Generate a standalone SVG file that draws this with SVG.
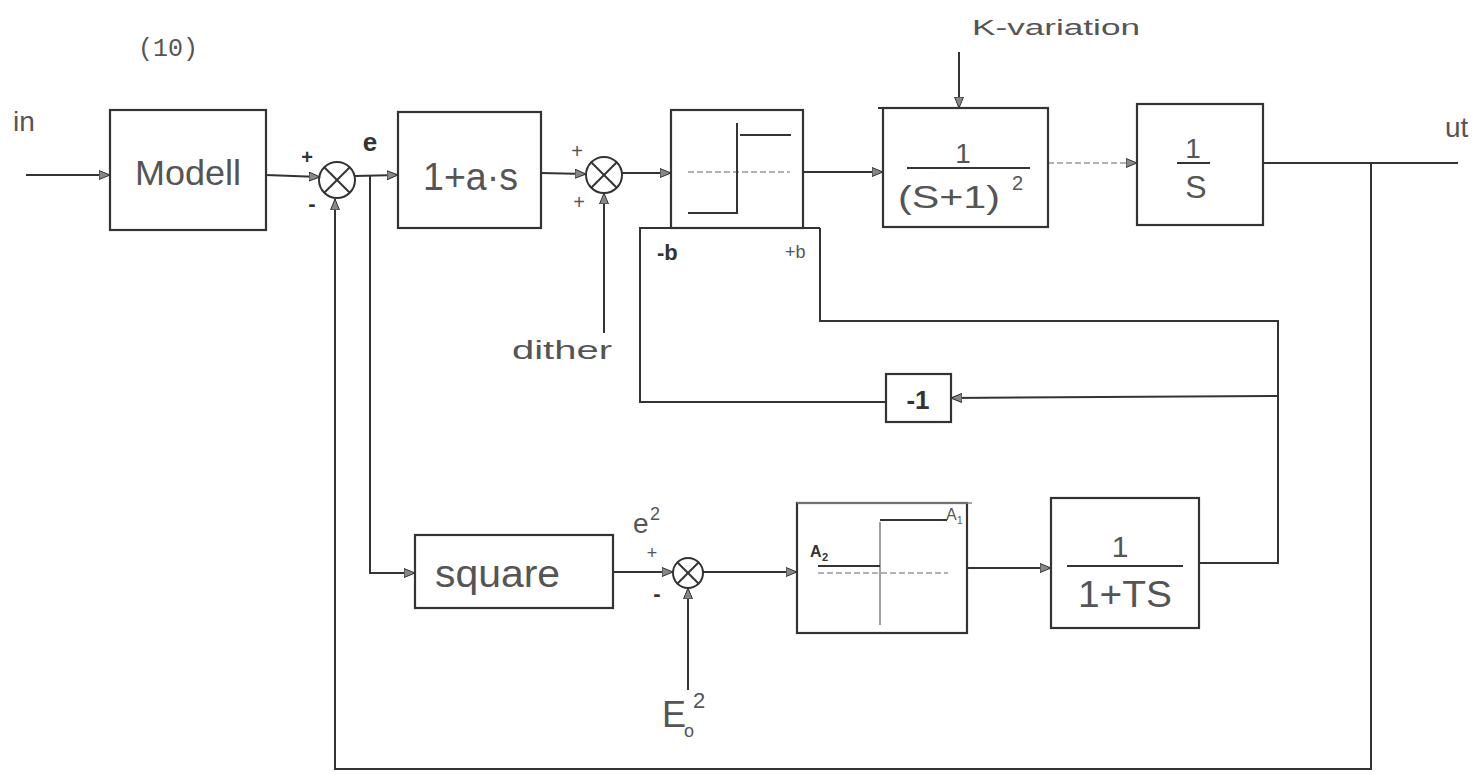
<svg xmlns="http://www.w3.org/2000/svg" width="1480" height="775" viewBox="0 0 1480 775">
<defs>
<style>
.box{fill:none;stroke:#333;stroke-width:2.2}
.ln{fill:none;stroke:#333;stroke-width:2}
.lt{fill:none;stroke:#888;stroke-width:1.6}
.dash{fill:none;stroke:#999;stroke-width:1.5;stroke-dasharray:6 3}
.t{font-family:"Liberation Sans",Arial,sans-serif;fill:#555}
.dk{fill:#333}
</style>
<marker id="ar" viewBox="0 0 12 10" refX="11" refY="5" markerWidth="12" markerHeight="10" markerUnits="userSpaceOnUse" orient="auto">
<path d="M0,0.5 L11,5 L0,9.5 z" fill="#888" stroke="#333" stroke-width="1"/>
</marker>
</defs>
<rect width="1480" height="775" fill="#fff"/>

<text class="t" x="138" y="56" style="font-family:'Liberation Mono',monospace;font-size:25px" fill="#444">(10)</text>

<g id="connectors">
<line class="ln" x1="26" y1="175" x2="110" y2="175" marker-end="url(#ar)"/>
<line class="ln" x1="266" y1="175" x2="320" y2="177" marker-end="url(#ar)"/>
<line class="ln" x1="355" y1="176" x2="398" y2="175" marker-end="url(#ar)"/>
<polyline class="ln" points="370,176 370,573 415,573" marker-end="url(#ar)"/>
<line class="ln" x1="541" y1="173" x2="586" y2="174" marker-end="url(#ar)"/>
<line class="ln" x1="622" y1="173" x2="671" y2="173" marker-end="url(#ar)"/>
<line class="ln" x1="803" y1="172" x2="883" y2="172" marker-end="url(#ar)"/>
<line class="dash" x1="1048" y1="163" x2="1137" y2="163" marker-end="url(#ar)"/>
<line class="ln" x1="1263" y1="163" x2="1458" y2="163"/>
<polyline class="ln" points="1371,163 1371,769 335,769 335,199" marker-end="url(#ar)"/>
<line class="ln" x1="604" y1="333" x2="604" y2="193" marker-end="url(#ar)"/>
<line class="ln" x1="959" y1="52" x2="959" y2="108" marker-end="url(#ar)"/>
<line class="ln" x1="613" y1="572" x2="673" y2="572" marker-end="url(#ar)"/>
<line class="ln" x1="688" y1="690" x2="688" y2="588" marker-end="url(#ar)"/>
<line class="ln" x1="703" y1="572" x2="797" y2="572" marker-end="url(#ar)"/>
<line class="ln" x1="967" y1="568" x2="1051" y2="568" marker-end="url(#ar)"/>
<polyline class="ln" points="1199,563 1278,563 1278,321 820,321 820,228"/>
<line class="ln" x1="1278" y1="396" x2="951" y2="398" marker-end="url(#ar)"/>
<polyline class="ln" points="886,402 640,402 640,228 820,228"/>
</g>

<g id="modell">
<rect class="box" x="110" y="110" width="156" height="120"/>
<text class="t" x="188" y="185" text-anchor="middle" style="font-size:35px" fill="#888" textLength="106" lengthAdjust="spacingAndGlyphs">Modell</text>
</g>

<g id="sum1">
<circle class="ln" cx="337" cy="180" r="18"/>
<line class="ln" x1="324" y1="167" x2="350" y2="193"/>
<line class="ln" x1="350" y1="167" x2="324" y2="193"/>
<text class="t dk" x="307" y="164" text-anchor="middle" style="font-size:20px;font-weight:bold">+</text>
<text class="t dk" x="312" y="211" text-anchor="middle" style="font-size:22px;font-weight:bold">-</text>
<text class="t dk" x="370" y="151" text-anchor="middle" style="font-size:26px;font-weight:bold">e</text>
</g>

<g id="lead">
<rect class="box" x="398" y="112" width="143" height="116"/>
<text class="t" x="423" y="190" style="font-size:38px" textLength="95" lengthAdjust="spacingAndGlyphs">1+a·s</text>
</g>

<g id="sum2">
<circle class="ln" cx="604" cy="175" r="18"/>
<line class="ln" x1="591" y1="162" x2="617" y2="188"/>
<line class="ln" x1="617" y1="162" x2="591" y2="188"/>
<text class="t" x="577" y="158" text-anchor="middle" style="font-size:20px">+</text>
<text class="t" x="579" y="209" text-anchor="middle" style="font-size:20px">+</text>
<text class="t" x="512" y="359" style="font-size:25px" textLength="100" lengthAdjust="spacingAndGlyphs">dither</text>
</g>

<g id="relay">
<rect class="box" x="671" y="110" width="132" height="118"/>
<line class="dash" x1="688" y1="172" x2="790" y2="172"/>
<polyline class="ln" points="688,213 737,213 737,123"/>
<line class="ln" x1="740" y1="135" x2="791" y2="135"/>
<text class="t dk" x="657" y="260" style="font-size:22px;font-weight:bold">-b</text>
<text class="t" x="785" y="258" style="font-size:18px" fill="#777">+b</text>
</g>

<g id="plant">
<rect class="box" x="883" y="108" width="165" height="119"/>
<line class="ln" x1="878" y1="108" x2="883" y2="108"/>
<text class="t" x="963" y="163" text-anchor="middle" style="font-size:28px">1</text>
<line class="ln" x1="907" y1="168" x2="1030" y2="168"/>
<text class="t" x="898" y="208" style="font-size:32px" textLength="102" lengthAdjust="spacingAndGlyphs">(S+1)</text>
<text class="t" x="1012" y="190" style="font-size:20px">2</text>
<text class="t" x="972" y="35" style="font-size:22px" textLength="168" lengthAdjust="spacingAndGlyphs">K-variation</text>
</g>

<g id="integrator">
<rect class="box" x="1137" y="104" width="126" height="121"/>
<text class="t" x="1193" y="158" text-anchor="middle" style="font-size:28px">1</text>
<line class="ln" x1="1177" y1="163" x2="1210" y2="163"/>
<text class="t" x="1196" y="198" text-anchor="middle" style="font-size:32px">S</text>
</g>

<text class="t" x="13" y="131" style="font-size:28px" fill="#444">in</text>
<text class="t" x="1445" y="137" style="font-size:28px" fill="#444">ut</text>

<g id="minus1">
<rect class="box" x="886" y="374" width="65" height="48"/>
<text class="t dk" x="918" y="409" text-anchor="middle" style="font-size:26px;font-weight:bold">-1</text>
</g>

<g id="square">
<rect class="box" x="415" y="535" width="198" height="73"/>
<text class="t" x="435" y="587" style="font-size:38px" textLength="125" lengthAdjust="spacingAndGlyphs">square</text>
</g>

<g id="sum3">
<circle class="ln" cx="688" cy="573" r="15"/>
<line class="ln" x1="677" y1="562" x2="699" y2="584"/>
<line class="ln" x1="699" y1="562" x2="677" y2="584"/>
<text class="t" x="633" y="533" style="font-size:28px" fill="#777">e</text>
<text class="t" x="650" y="520" style="font-size:18px" fill="#777">2</text>
<text class="t" x="652" y="559" text-anchor="middle" style="font-size:18px" fill="#777">+</text>
<text class="t dk" x="657" y="601" text-anchor="middle" style="font-size:22px;font-weight:bold">-</text>
<text class="t" x="662" y="727" style="font-size:36px">E</text>
<text class="t" x="684" y="737" style="font-size:18px">o</text>
<text class="t" x="693" y="708" style="font-size:22px">2</text>
</g>

<g id="relay2">
<rect class="box" x="797" y="503" width="170" height="130"/>
<line class="lt" x1="797" y1="503" x2="972" y2="503"/>
<line class="lt" x1="880" y1="522" x2="880" y2="625"/>
<line class="ln" x1="880" y1="520" x2="947" y2="520"/>
<line class="ln" x1="818" y1="566" x2="880" y2="566"/>
<line class="dash" x1="818" y1="573" x2="948" y2="573"/>
<text class="t" x="946" y="520" style="font-size:16px">A</text>
<text class="t" x="957" y="524" style="font-size:10px">1</text>
<text class="t dk" x="810" y="557" style="font-size:16px;font-weight:bold">A</text>
<text class="t dk" x="822" y="561" style="font-size:11px;font-weight:bold">2</text>
</g>

<g id="filter">
<rect class="box" x="1051" y="498" width="148" height="130"/>
<text class="t" x="1120" y="557" text-anchor="middle" style="font-size:30px">1</text>
<line class="ln" x1="1067" y1="566" x2="1183" y2="566"/>
<text class="t" x="1078" y="607" style="font-size:36px" textLength="94" lengthAdjust="spacingAndGlyphs">1+TS</text>
</g>
</svg>
